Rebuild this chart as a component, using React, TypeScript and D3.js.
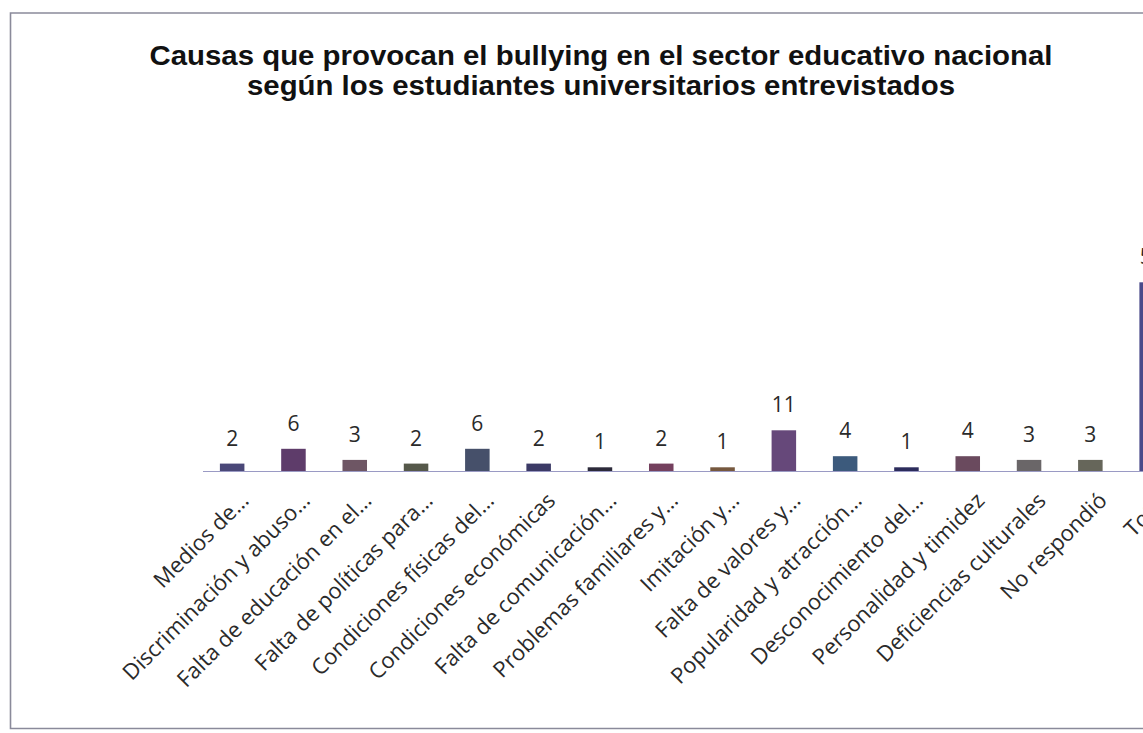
import React from "react";
import * as d3 from "d3";

const categories = [
  "Medios de…",
  "Discriminación y abuso…",
  "Falta de educación en el…",
  "Falta de políticas para…",
  "Condiciones físicas del…",
  "Condiciones económicas",
  "Falta de comunicación…",
  "Problemas familiares y…",
  "Imitación y…",
  "Falta de valores y…",
  "Popularidad y atracción…",
  "Desconocimiento del…",
  "Personalidad y timidez",
  "Deficiencias culturales",
  "No respondió",
  "Total",
];
const values = [2, 6, 3, 2, 6, 2, 1, 2, 1, 11, 4, 1, 4, 3, 3, 51];
const barColors = [
  "#4a4878", "#5e3c6a", "#6e5664", "#55584a", "#46506a", "#3c3a66",
  "#2c2a3a", "#74405e", "#76583e", "#66487a", "#3c5a7c", "#2c2c5c",
  "#6a4a5e", "#6a6668", "#66665a", "#4a4a8a",
];
const titleLines = [
  "Causas que provocan el bullying en el sector educativo nacional",
  "según los estudiantes universitarios entrevistados",
];

const W = 1143;
const H = 733;
const baseline = 471;
const x0 = 201.5;
const step = 61.3;

export default function App() {
  const x = d3
    .scaleBand<string>()
    .domain(categories)
    .range([x0, x0 + step * categories.length])
    .paddingInner(0.6)
    .paddingOuter(0.3);
  const y = d3.scaleLinear().domain([0, 51]).range([baseline, baseline - 51 * 3.7]);

  return (
    <svg
      width={W}
      height={H}
      style={{ position: "fixed", left: 0, top: 0, background: "#fff" }}
    >
      <rect x={0} y={0} width={W} height={H} fill="#fff" />
      {/* frame */}
      <path d={`M${W + 5},13 H10.5 V728.5 H${W + 5}`} fill="none" stroke="#8a8a9a" strokeWidth={1.6} />
      {/* title */}
      <text
        x={601}
        y={65}
        textAnchor="middle"
        fontFamily="'Liberation Sans', Arial, sans-serif"
        fontWeight="bold"
        fontSize={27}
        fill="#111"
        textLength={903}
        lengthAdjust="spacingAndGlyphs"
      >
        {titleLines[0]}
      </text>
      <text
        x={601}
        y={95}
        textAnchor="middle"
        fontFamily="'Liberation Sans', Arial, sans-serif"
        fontWeight="bold"
        fontSize={27}
        fill="#111"
        textLength={708}
        lengthAdjust="spacingAndGlyphs"
      >
        {titleLines[1]}
      </text>
      {/* axis line */}
      <line x1={203} x2={W + 5} y1={baseline + 0.5} y2={baseline + 0.5} stroke="#9a9ac4" strokeWidth={1.2} />
      {/* bars */}
      {categories.map((c, i) => {
        const bx = x(c)!;
        const bw = x.bandwidth();
        return (
          <g key={c}>
            <rect
              x={bx}
              y={y(values[i])}
              width={bw}
              height={baseline - y(values[i])}
              fill={barColors[i]}
            />
            <text
              x={bx + bw / 2}
              y={y(values[i]) - 18}
              textAnchor="middle"
              fontFamily="'Open Sans', sans-serif"
              fontSize={21}
              fill="#2a2a2a"
            >
              {values[i]}
            </text>
            <text
              transform={`translate(${bx + bw / 2 + 18},${baseline + 31}) rotate(-45)`}
              textAnchor="end"
              fontFamily="'Open Sans', sans-serif"
              fontSize={22}
              fill="#2a2a2a"
            >
              {c}
            </text>
          </g>
        );
      })}
    </svg>
  );
}
